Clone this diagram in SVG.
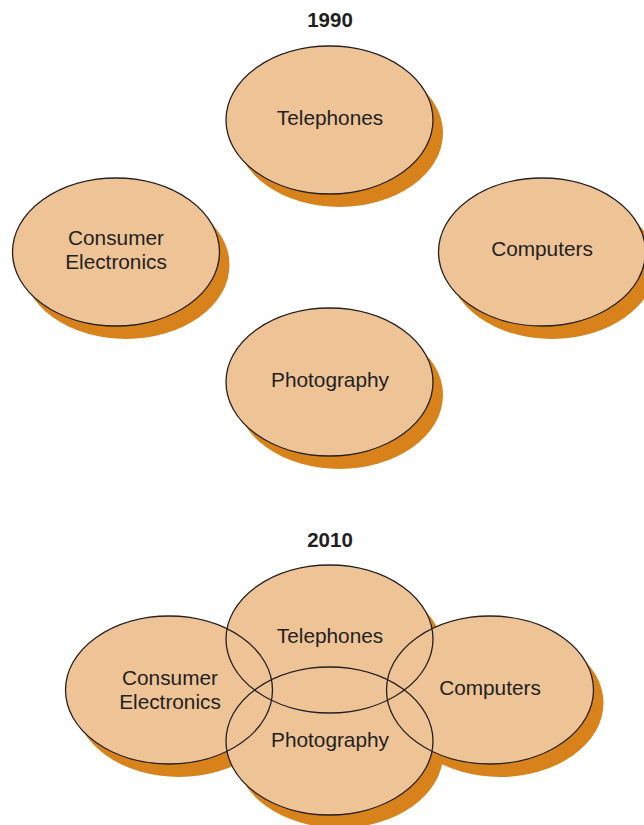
<svg xmlns="http://www.w3.org/2000/svg" width="644" height="825" viewBox="0 0 644 825">
<style>
.bg{fill:#ffffff}
.sh{fill:#D8821C}
.fl{fill:#EEC497}
.ol{fill:none;stroke:#231F20;stroke-width:1.3}
.lb{font-family:"Liberation Sans",Arial,sans-serif;font-size:20.8px;fill:#231F20;text-anchor:middle}
.tt{font-family:"Liberation Sans",Arial,sans-serif;font-size:20.5px;font-weight:bold;fill:#231F20;text-anchor:middle}
</style>
<defs>
<ellipse id="e" cx="0" cy="0" rx="103.5" ry="74"/>
</defs>
<rect class="bg" x="0" y="0" width="644" height="825"/>
<g id="shadows">
<use href="#e" class="sh" x="339.5" y="133"/>
<use href="#e" class="sh" x="126" y="265"/>
<use href="#e" class="sh" x="552" y="265"/>
<use href="#e" class="sh" x="339.5" y="395"/>
<use href="#e" class="sh" x="339.5" y="652"/>
<use href="#e" class="sh" x="179" y="703"/>
<use href="#e" class="sh" x="500" y="703"/>
<use href="#e" class="sh" x="339.5" y="754"/>
</g>
<g id="fills">
<use href="#e" class="fl" x="329.5" y="120"/>
<use href="#e" class="fl" x="116" y="252"/>
<use href="#e" class="fl" x="542" y="252"/>
<use href="#e" class="fl" x="329.5" y="382"/>
<use href="#e" class="fl" x="329.5" y="639"/>
<use href="#e" class="fl" x="169" y="690"/>
<use href="#e" class="fl" x="490" y="690"/>
<use href="#e" class="fl" x="329.5" y="741"/>
</g>
<text class="tt" x="330" y="27">1990</text>
<g id="tel1990">
<use href="#e" class="ol" x="329.5" y="120"/>
<text class="lb" x="330" y="125">Telephones</text>
</g>
<g id="ce1990">
<use href="#e" class="ol" x="116" y="252"/>
<text class="lb" x="116" y="245">Consumer</text>
<text class="lb" x="116" y="269">Electronics</text>
</g>
<g id="comp1990">
<use href="#e" class="ol" x="542" y="252"/>
<text class="lb" x="542" y="256">Computers</text>
</g>
<g id="photo1990">
<use href="#e" class="ol" x="329.5" y="382"/>
<text class="lb" x="330" y="387">Photography</text>
</g>
<text class="tt" x="330" y="547">2010</text>
<g id="tel2010">
<use href="#e" class="ol" x="329.5" y="639"/>
<text class="lb" x="330" y="643">Telephones</text>
</g>
<g id="ce2010">
<use href="#e" class="ol" x="169" y="690"/>
<text class="lb" x="170" y="685">Consumer</text>
<text class="lb" x="170" y="709">Electronics</text>
</g>
<g id="comp2010">
<use href="#e" class="ol" x="490" y="690"/>
<text class="lb" x="490" y="695">Computers</text>
</g>
<g id="photo2010">
<use href="#e" class="ol" x="329.5" y="741"/>
<text class="lb" x="330" y="747">Photography</text>
</g>
<g id="connectors"></g>
</svg>
